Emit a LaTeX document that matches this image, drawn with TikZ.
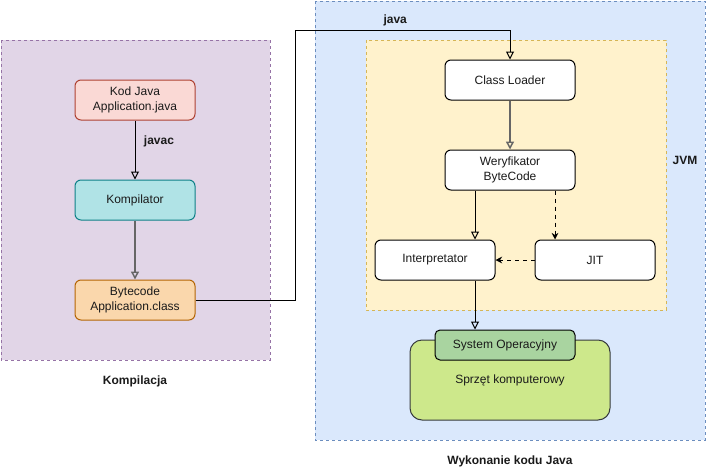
\documentclass[tikz,border=0pt]{standalone}
\usepackage{fontspec}
\setmainfont{Liberation Sans}
\usetikzlibrary{arrows.meta,positioning}
\definecolor{Txt}{HTML}{1A1A1A}
\definecolor{PurpleFill}{HTML}{E1D5E7}
\definecolor{PurpleLine}{HTML}{9673A6}
\definecolor{BlueFill}{HTML}{DAE8FC}
\definecolor{BlueLine}{HTML}{6C8EBF}
\definecolor{YellowFill}{HTML}{FFF2CC}
\definecolor{YellowLine}{HTML}{D6B656}
\definecolor{RedFill}{HTML}{FAD9D5}
\definecolor{RedLine}{HTML}{AE4132}
\definecolor{TealFill}{HTML}{B0E3E6}
\definecolor{TealLine}{HTML}{0E8088}
\definecolor{OrangeFill}{HTML}{FAD7AC}
\definecolor{OrangeLine}{HTML}{B46504}
\definecolor{OSFill}{HTML}{A9D4A0}
\definecolor{HWFill}{HTML}{CDE88B}
\definecolor{HWLine}{HTML}{36393D}
\definecolor{GreyLine}{HTML}{666666}

\begin{document}
\begin{tikzpicture}[x=0.75pt, y=-0.75pt, line width=0.75pt,
    font=\fontsize{9}{11}\selectfont, text=Txt,
    group/.style={dash pattern=on 2.25pt off 2.25pt},
    block/.style={draw, rounded corners=4.5pt, align=center,
        minimum width=90pt, minimum height=30pt, inner sep=1pt},
    jvmblock/.style={block, fill=white, minimum width=97.5pt},
    label/.style={font=\fontsize{9}{11}\selectfont\bfseries},
    flow/.style={-{Triangle[open,length=6pt,width=6pt]}},
    greyflow/.style={flow, GreyLine, line width=1.1pt},
    opt/.style={dashed, -{Stealth[length=5pt,width=5pt]}}]
    \useasboundingbox (0,0) rectangle (706,471);

    % Groups
    \draw[group, fill=PurpleFill, draw=PurpleLine] (1,40) rectangle (270,360);
    \draw[group, fill=BlueFill, draw=BlueLine] (315,1) rectangle (705,440);
    \draw[group, fill=YellowFill, draw=YellowLine] (366,40) rectangle (666,310);

    % Compilation
    \node[block, fill=RedFill, draw=RedLine] (src) at (135,100) {Kod Java\\Application.java};
    \node[block, fill=TealFill, draw=TealLine] (comp) at (135,200) {Kompilator};
    \node[block, fill=OrangeFill, draw=OrangeLine] (bytecode) at (135,300) {Bytecode\\Application.class};

    % JVM
    \node[jvmblock] (loader) at (510,80) {Class Loader};
    \node[jvmblock] (verifier) at (510,170) {Weryfikator\\ByteCode};
    \node[jvmblock, minimum width=90pt] (interp) at (435,260) {Interpretator};
    \node[jvmblock, minimum width=90pt] (jit) at (595,260) {JIT};

    % Hardware
    \node[block, fill=HWFill, draw=HWLine, minimum width=150pt, minimum height=60pt,
        rounded corners=9pt] (hw) at (510,380) {\raisebox{-3pt}{Sprzęt komputerowy}};
    \node[block, fill=OSFill, draw=black, minimum width=105pt, minimum height=22.5pt,
        rounded corners=3.75pt] (os) at (505,345) {System Operacyjny};

    % Labels
    \node[label] (complbl) at (135,381) {Kompilacja};
    \node[label] (runlbl) at (510,461) {Wykonanie kodu Java};
    \node[label] (jvmlbl) at (685,160) {JVM};

    % Connectors
    \coordinate (up) at (295,30);
    \coordinate (left) at (475,0);
    \coordinate (right) at (555,0);
    \draw[flow] (src) -- node[label, right=3pt, pos=0.36] (javac) {javac} (comp);
    \draw[greyflow] (comp) -- (bytecode);
    \draw[flow] (bytecode.east) -| (up) -| node[label, pos=0.233, above=-1pt] (java) {java} (loader.north);
    \draw[greyflow] (loader) -- (verifier);
    \draw[flow] (verifier.south -| left) -- (interp.north -| left);
    \draw[opt] (verifier.south -| right) -- (jit.north -| right);
    \draw[opt] (jit) -- (interp);
    \draw[flow] (interp.south -| left) -- (os.north -| left);
\end{tikzpicture}
\end{document}
